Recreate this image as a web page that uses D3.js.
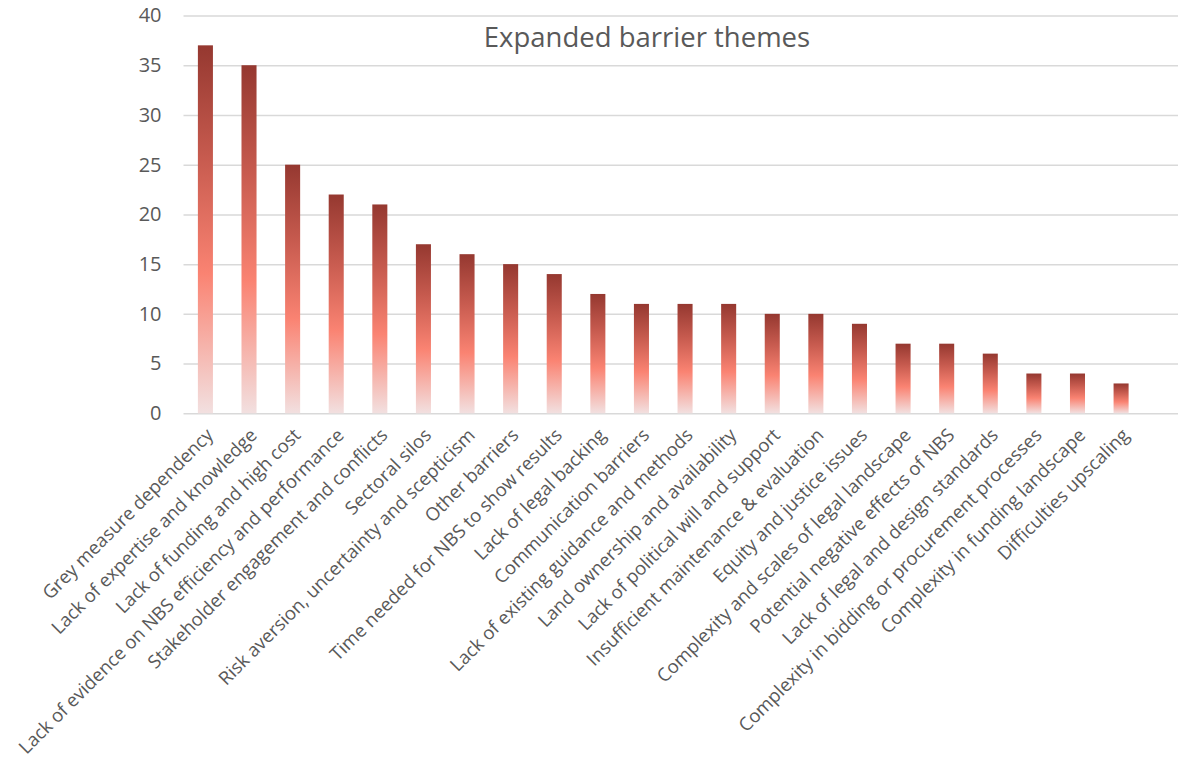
<!DOCTYPE html>
<html>
<head>
<meta charset="utf-8">
<script src="https://cdn.jsdelivr.net/npm/d3@7"></script>
<style>
  html, body { margin: 0; padding: 0; background: #fff; }
  svg { display: block; font-family: "Open Sans", sans-serif; }
</style>
</head>
<body>
<svg id="chart" width="1178" height="762"></svg>
<script>
// Barrier themes and how often each was mentioned
const categories = [
  "Grey measure dependency",
  "Lack of expertise and knowledge",
  "Lack of funding and high cost",
  "Lack of evidence on NBS efficiency and performance",
  "Stakeholder engagement and conflicts",
  "Sectoral silos",
  "Risk aversion, uncertainty and scepticism",
  "Other barriers",
  "Time needed for NBS to show results",
  "Lack of legal backing",
  "Communication barriers",
  "Lack of existing guidance and methods",
  "Land ownership and availability",
  "Lack of political will and support",
  "Insufficient maintenance & evaluation",
  "Equity and justice issues",
  "Complexity and scales of legal landscape",
  "Potential negative effects of NBS",
  "Lack of legal and design standards",
  "Complexity in bidding or procurement processes",
  "Complexity in funding landscape",
  "Difficulties upscaling"
];
const counts = [37, 35, 25, 22, 21, 17, 16, 15, 14, 12, 11, 11, 11, 10, 10, 9, 7, 7, 6, 4, 4, 3];
const yTicks = [0, 5, 10, 15, 20, 25, 30, 35, 40];
const title = "Expanded barrier themes";

const svg = d3.select("#chart");
const textColor = "#595959";
const gridColor = "#d9d9d9";

const plot = { left: 183.5, right: 1143, gridRight: 1178, top: 15.5, bottom: 413.3 };

const x = d3.scaleBand()
  .domain(categories)
  .range([plot.left, plot.right])
  .paddingInner(0.655)
  .paddingOuter(0.33);

const y = d3.scaleLinear()
  .domain([0, 40])
  .range([plot.bottom, plot.top]);

// Vertical gradient fill, stretched over each bar's own height
const defs = svg.append("defs");
const grad = defs.append("linearGradient")
  .attr("id", "barFill")
  .attr("x1", 0).attr("y1", 0).attr("x2", 0).attr("y2", 1);
grad.append("stop").attr("offset", "0%").attr("stop-color", "#953830");
grad.append("stop").attr("offset", "30%").attr("stop-color", "#c65a4e");
grad.append("stop").attr("offset", "62%").attr("stop-color", "#fa8372");
grad.append("stop").attr("offset", "100%").attr("stop-color", "#f2e0e0");

// Horizontal gridlines and y tick labels
const yAxis = d3.axisLeft(y)
  .tickValues(yTicks)
  .tickSize(-(plot.gridRight - plot.left))
  .tickPadding(22);

const yG = svg.append("g")
  .attr("transform", `translate(${plot.left},0)`)
  .call(yAxis);
yG.select(".domain").remove();
yG.selectAll(".tick line")
  .attr("stroke", gridColor)
  .attr("stroke-width", 1.5);
yG.selectAll(".tick text")
  .attr("fill", textColor)
  .attr("font-size", 20)
  .attr("font-family", "Open Sans, sans-serif");

// Bars
svg.append("g")
  .selectAll("rect")
  .data(counts)
  .join("rect")
  .attr("x", (d, i) => x(categories[i]))
  .attr("width", x.bandwidth())
  .attr("y", d => y(d))
  .attr("height", d => y(0) - y(d))
  .attr("fill", "url(#barFill)");

// Rotated category labels
const xAxis = d3.axisBottom(x).tickSize(0).tickPadding(0);
const xG = svg.append("g")
  .attr("transform", `translate(0,${plot.bottom})`)
  .call(xAxis);
xG.select(".domain").remove();
xG.selectAll(".tick text")
  .attr("fill", textColor)
  .attr("font-size", 18.5)
  .attr("font-family", "Open Sans, sans-serif")
  .attr("text-anchor", "end")
  .attr("dy", 0)
  .attr("transform", "translate(9,23) rotate(-45)");

// Title
svg.append("text")
  .attr("x", 647)
  .attr("y", 47)
  .attr("text-anchor", "middle")
  .attr("fill", textColor)
  .attr("font-size", 27.5)
  .attr("font-family", "Open Sans, sans-serif")
  .text(title);
</script>
</body>
</html>
